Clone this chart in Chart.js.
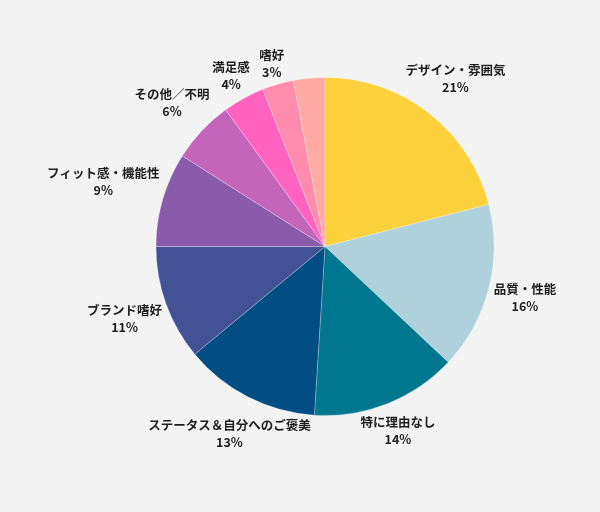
<!DOCTYPE html>
<html>
<head>
<meta charset="utf-8">
<script src="https://cdn.jsdelivr.net/npm/chart.js@4.4.1/dist/chart.umd.min.js"></script>
<style>
  html, body { margin: 0; padding: 0; background: #f3f3f3; }
  #wrap { width: 600px; height: 512px; }
</style>
</head>
<body>
<div id="wrap"><canvas id="chart" width="600" height="512"></canvas></div>
<script>
// 購入理由の内訳
const categories = [
  "デザイン・雰囲気", "品質・性能", "特に理由なし", "ステータス＆自分へのご褒美",
  "ブランド嗜好", "フィット感・機能性", "その他／不明", "満足感", "嗜好", ""
];
const shares = [21, 16, 14, 13, 11, 9, 6, 4, 3, 3];
const sliceColors = [
  "#fcd13b", "#afd1dc", "#00768f", "#024e84", "#435197",
  "#8a5bab", "#c564bb", "#ff63bf", "#ff8bad", "#ffaba4"
];

const FONT = '"Noto Sans CJK JP", "Noto Sans", sans-serif';

// ラベルを円の外側に置く（箱の一番近い点が円から一定距離になるように）
const outsideLabels = {
  id: "outsideLabels",
  afterDatasetsDraw(chart) {
    const ctx = chart.ctx;
    const meta = chart.getDatasetMeta(0);
    ctx.save();
    ctx.font = "bold 12.5px " + FONT;
    ctx.fillStyle = "#1e1e1e";
    ctx.textAlign = "center";
    ctx.textBaseline = "middle";
    const lineH = 17;
    meta.data.forEach((arc, i) => {
      const name = categories[i];
      if (!name) return;
      const p = arc.getProps(["x", "y", "startAngle", "endAngle", "outerRadius"], true);
      const mid = (p.startAngle + p.endAngle) / 2;
      const dx = Math.cos(mid), dy = Math.sin(mid);
      const lines = [name, shares[i] + "%"];
      const hw = Math.max(...lines.map(l => ctx.measureText(l).width)) / 2;
      const hh = 15.5;
      const target = p.outerRadius + 3.5;
      const nearest = (t) => {
        const cx = dx * t, cy = dy * t;
        const nx = Math.max(Math.abs(cx) - hw, 0);
        const ny = Math.max(Math.abs(cy) - hh, 0);
        return Math.hypot(nx, ny);
      };
      let lo = 0, hi = 400;
      for (let k = 0; k < 40; k++) {
        const m = (lo + hi) / 2;
        if (nearest(m) < target) lo = m; else hi = m;
      }
      const cx = p.x + dx * lo, cy = p.y + dy * lo;
      ctx.fillText(lines[0], cx, cy - lineH / 2);
      ctx.fillText(lines[1], cx, cy + lineH / 2);
    });
    ctx.restore();
  }
};

new Chart(document.getElementById("chart"), {
  type: "pie",
  data: {
    labels: categories,
    datasets: [{
      data: shares,
      backgroundColor: sliceColors,
      borderColor: "rgba(255,255,255,0.25)",
      borderWidth: 1
    }]
  },
  options: {
    responsive: false,
    animation: false,
    layout: { padding: { left: 155, right: 105, top: 77, bottom: 96 } },
    plugins: {
      legend: { display: false },
      tooltip: { enabled: false }
    }
  },
  plugins: [outsideLabels]
});
</script>
</body>
</html>
